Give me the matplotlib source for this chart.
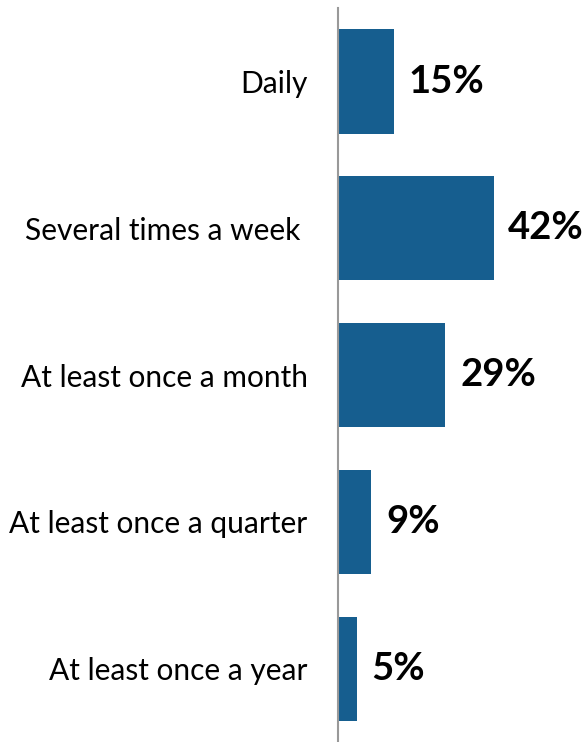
import matplotlib.pyplot as plt

categories = ['Daily', 'Several times a week ', 'At least once a month',
              'At least once a quarter', 'At least once a year']
values = [15, 42, 29, 9, 5]
labels = ['15%', '42%', '29%', '9%', '5%']

plt.rcParams['font.family'] = ['Lato', 'DejaVu Sans']

fig = plt.figure(figsize=(5.86, 7.42), dpi=100)
ax = fig.add_axes([0.577, 0.0, 0.423, 0.989])

pos = range(len(categories))
ax.barh(pos, values, height=0.71, color='#165E8F')
for y, v, lab in zip(pos, values, labels):
    ax.text(v + 4.0, y, lab, va='center', ha='left', fontsize=27.5,
            fontweight='bold', color='black')

ax.set_xlim(0, 67)
ax.set_ylim(4.5, -0.5)
ax.set_yticks(list(pos))
ax.set_yticklabels(categories, fontsize=21.5)
ax.tick_params(axis='y', length=0, pad=22)
ax.set_xticks([])
for s in ['top', 'right', 'bottom']:
    ax.spines[s].set_visible(False)
ax.spines['left'].set_color('#999999')
ax.spines['left'].set_linewidth(1.5)

fig.savefig('out.png', dpi=100)
